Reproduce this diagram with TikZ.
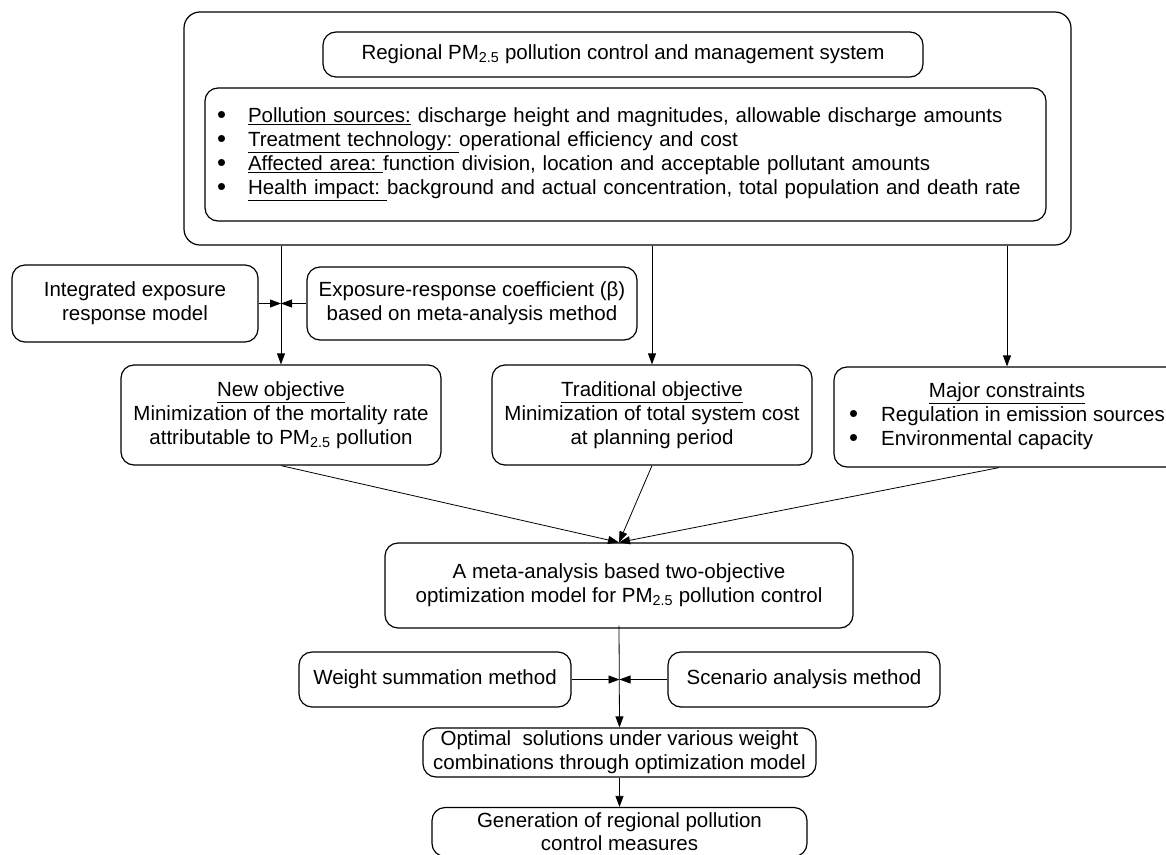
\documentclass[tikz,border=0pt]{standalone}
\usepackage{fontspec}
\setmainfont{Liberation Sans}
\usetikzlibrary{arrows.meta}
\newcommand{\pmt}{PM\textsubscript{2.5}}
\newcommand{\bul}[1]{\makebox[#1][l]{\smash{\raisebox{-0.5pt}{\scalebox{1.25}{•}}}}}
\begin{document}
\begin{tikzpicture}[x=1pt,y=-1pt,
  box/.style={draw, line width=1.2pt, rounded corners=13pt, align=center, inner sep=2pt,
    font=\fontsize{20.5}{24}\selectfont},
  arr/.style={line width=0.8pt, -{Triangle[length=11pt,width=8pt]}},
  ln/.style={line width=0.8pt}]
\useasboundingbox (0,0) rectangle (1166,854);
\clip (0,0) rectangle (1166,854);
% top group
\node[box, rounded corners=16pt, minimum width=887pt, minimum height=233pt] (outer) at (627.5,128.5) {};
\node[box, minimum width=600pt, minimum height=45pt] (title) at (623,54.5) {Regional \pmt{} pollution control and management system};
\node[box, text width=817pt, align=left, inner xsep=12pt, minimum height=133pt] (list) at (625.5,154.5)
  {\bul{31pt}\underline{Pollution sources:} discharge height and magnitudes, allowable discharge amounts\\
   \bul{31pt}\underline{Treatment technology:\ }operational efficiency and cost\\
   \bul{31pt}\underline{Affected area:\ }function division, location and acceptable pollutant amounts\\
   \bul{31pt}\underline{Health impact:\ }background and actual concentration, total population and death rate};
% second row
\node[box, minimum width=246pt, minimum height=77pt] (integ) at (135,303.5) {Integrated exposure\\response model};
\node[box, minimum width=330pt, minimum height=73pt] (expo) at (472,303.5) {Exposure-response coefficient (β)\\based on meta-analysis method};
% objectives
\node[box, minimum width=320pt, minimum height=100pt] (newobj) at (281,415) {\underline{New objective}\\Minimization of the mortality rate\\attributable to \pmt{} pollution};
\node[box, minimum width=320pt, minimum height=100pt] (trad) at (652,415) {\underline{Traditional objective}\\Minimization of total system cost\\at planning period};
\node[box, minimum width=346pt, minimum height=100pt] (major) at (1007,417)
  {\begin{tabular}{@{}l@{}}\multicolumn{1}{@{}c@{}}{\underline{Major constraints}}\\
   \bul{32pt}Regulation in emission sources\\
   \bul{32pt}Environmental capacity\end{tabular}};
% model
\node[box, minimum width=468pt, minimum height=85pt] (meta) at (619,585.5) {A meta-analysis based two-objective\\optimization model for \pmt{} pollution control};
\node[box, minimum width=272pt, minimum height=55pt] (weight) at (435,679.5) {Weight summation method};
\node[box, minimum width=272pt, minimum height=55pt] (scen) at (804,679.5) {Scenario analysis method};
\node[box, minimum width=393pt, minimum height=49pt, inner xsep=0pt, inner ysep=1pt] (opt) at (619.5,752.5) {Optimal\ \ solutions under various weight\\combinations through optimization model};
\node[box, minimum width=375pt, minimum height=49pt, inner sep=1pt, font=\fontsize{20.5}{23}\selectfont] (gen) at (619.5,832) {Generation of regional pollution\\control measures};
% connectors
\draw[arr] (outer.south -| newobj.north) -- (newobj.north);
\draw[arr] (outer.south -| trad.north) -- (trad.north);
\draw[arr] (outer.south -| major.north) -- (major.north);
\draw[arr] (integ.east) -- (integ.east -| newobj.north);
\draw[arr] (expo.west) -- (expo.west -| newobj.north);
\draw[arr] (newobj.south) -- (meta.north);
\draw[arr] (trad.south) -- (meta.north);
\draw[arr] ([xshift=-8pt]major.south) -- (meta.north);
\draw[arr] ([yshift=3pt]meta.south) -- (opt.north);
\draw[arr] (weight.east) -- (weight.east -| opt.north);
\draw[arr] (scen.west) -- (scen.west -| opt.north);
\draw[arr] (opt.south) -- (gen.north);
\end{tikzpicture}
\end{document}
